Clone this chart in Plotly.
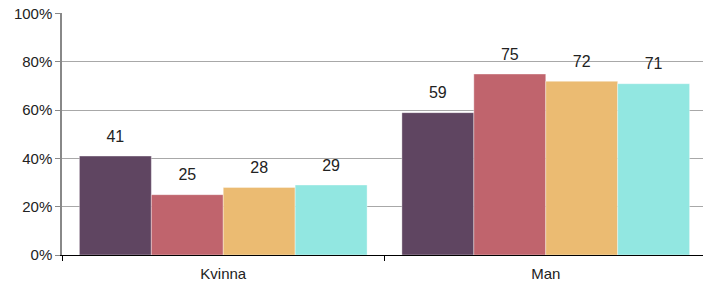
import plotly.graph_objects as go

categories = ["Kvinna", "Man"]
series_names = ["Serie 1", "Serie 2", "Serie 3", "Serie 4"]
series_values = [
    [41, 59],
    [25, 75],
    [28, 72],
    [29, 71],
]
colors = ["#5F4561", "#C0646D", "#EBBB72", "#92E7E1"]
y_ticks = [0, 20, 40, 60, 80, 100]
y_tick_labels = ["0%", "20%", "40%", "60%", "80%", "100%"]

fig = go.Figure()
for name, vals, col in zip(series_names, series_values, colors):
    fig.add_trace(go.Bar(
        x=categories, y=vals, name=name,
        marker=dict(color=col, line=dict(width=0.6, color="rgba(255,255,255,0.6)")),
    ))
for name, vals in zip(series_names, series_values):
    fig.add_trace(go.Scatter(
        x=categories, y=vals, name=name + " etikett",
        mode="markers+text",
        marker=dict(size=15, opacity=0),
        text=[str(v) for v in vals],
        textposition="top center",
        textfont=dict(family="Liberation Sans, Arial", size=16, color="#222"),
        cliponaxis=False, hoverinfo="skip",
    ))

fig.update_layout(
    width=703, height=285,
    margin=dict(l=62, r=0, t=13, b=30, autoexpand=False),
    barmode="group", bargap=0.108, bargroupgap=0,
    scattermode="group", scattergap=0.108,
    plot_bgcolor="white", paper_bgcolor="white",
    showlegend=False,
    font=dict(family="Liberation Sans, Arial", size=15, color="#222"),
)
fig.update_xaxes(
    range=[-0.5, 1.4876], automargin=False,
    showline=True, linecolor="#000", linewidth=1,
    ticks="outside", tickson="boundaries", ticklen=5, tickcolor="#000",
    ticklabelstandoff=5,
    tickfont=dict(size=15, color="#222"),
    showgrid=False,
)
fig.update_yaxes(
    range=[0, 100.3], tickvals=y_ticks, ticktext=y_tick_labels, automargin=False,
    ticklabeloverflow="allow",
    showline=True, linecolor="#888", linewidth=1.5,
    ticks="outside", ticklen=5, tickcolor="#888",
    showgrid=True, gridcolor="#A8A8A8", gridwidth=1,
    tickfont=dict(size=15, color="#222"),
    zeroline=False,
)

fig.write_html("out.html", config={"displayModeBar": False},
               post_script="document.body.style.margin='0';")
